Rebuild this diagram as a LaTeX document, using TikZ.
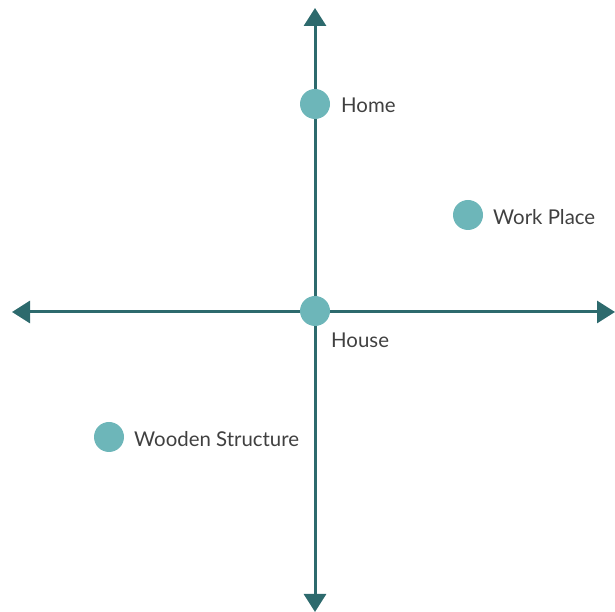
\documentclass[tikz,border=0pt]{standalone}
\usepackage{fontspec}
\setmainfont{Lato}
\usetikzlibrary{arrows.meta}
\definecolor{axisc}{HTML}{2D6A6D}
\definecolor{dotc}{HTML}{6DB6B9}
\definecolor{textc}{HTML}{404040}
\begin{document}
\begin{tikzpicture}[x=1pt,y=1pt,
  axis/.style={draw=axisc,line width=3pt,{Triangle[length=18pt,width=22pt]}-{Triangle[length=18pt,width=22pt]}},
  dot/.style={circle,fill=dotc,minimum size=30pt,inner sep=0pt},
  lbl/.style={anchor=west,inner sep=0pt,text=textc,font=\fontsize{20.4}{24}\selectfont}]
\useasboundingbox (0,0) rectangle (615,612);
\coordinate (top) at (315,604);
\coordinate (bot) at (315,0);
\coordinate (left) at (12,300);
\coordinate (right) at (615,300);
\draw[axis] (bot) -- (top);
\draw[axis] (left) -- (right);
\node[dot] (home) at (315,508) {};
\node[dot] (work) at (468,397) {};
\node[dot] (house) at (315,301) {};
\node[dot] (wood) at (109,175) {};
\node[lbl] (homel) at (341,507) {Home};
\node[lbl] (workl) at (493,395) {Work Place};
\node[lbl] (housel) at (331,272) {House};
\node[lbl] (woodl) at (134,173) {Wooden Structure};
\end{tikzpicture}
\end{document}
